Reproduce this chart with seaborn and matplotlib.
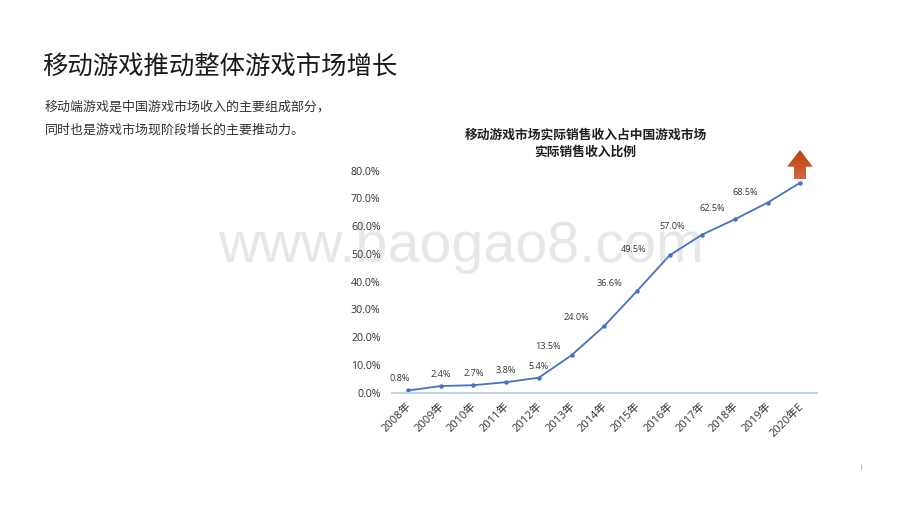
import numpy as np
import pandas as pd
import matplotlib
matplotlib.use("Agg")
import matplotlib.pyplot as plt
from matplotlib.patches import Polygon
from matplotlib.ticker import PercentFormatter
from matplotlib.transforms import ScaledTranslation
import seaborn as sns

# ---- data ----
years = ["2008年", "2009年", "2010年", "2011年", "2012年", "2013年", "2014年",
         "2015年", "2016年", "2017年", "2018年", "2019年", "2020年E"]
shares = [0.8, 2.4, 2.7, 3.8, 5.4, 13.5, 24.0, 36.6, 49.5, 57.0, 62.5, 68.5, 75.7]
value_labels = ["0.8%", "2.4%", "2.7%", "3.8%", "5.4%", "13.5%", "24.0%",
                "36.6%", "49.5%", "57.0%", "62.5%", "68.5%", ""]
y_ticks = [0, 10, 20, 30, 40, 50, 60, 70, 80]

page_title = "移动游戏推动整体游戏市场增长"
body_lines = ["移动端游戏是中国游戏市场收入的主要组成部分，", "同时也是游戏市场现阶段增长的主要推动力。"]
chart_title = "移动游戏市场实际销售收入占中国游戏市场\n实际销售收入比例"
watermark = "www.baogao8.com"

# label offsets from each point, in pixels (dx, dy up)
label_offsets = [(-8.4, 11.8), (0, 11.3), (0, 11.5), (0, 11.9), (0, 11.7), (-24, 9.2),
                 (-28.3, 8.4), (-27.4, 7.8), (-36.2, 6.3), (-29.9, 8.2), (-22.9, 10.6),
                 (-22.3, 10.3), (0, 0)]

W, H = 920, 518
sns.set_theme(style="white")
CJK = "Noto Sans CJK SC"
plt.rcParams["font.family"] = ["Open Sans", CJK, "DejaVu Sans"]

fig = plt.figure(figsize=(W / 100, H / 100), dpi=100, facecolor="white")

# full-page layer in pixel coordinates for the slide furniture
page = fig.add_axes([0, 0, 1, 1], zorder=0)
page.set_xlim(0, W)
page.set_ylim(H, 0)
page.axis("off")
page.text(218, 262, watermark, family="Liberation Sans", fontsize=41.4, color="#E7E7E7", va="baseline", ha="left")
page.text(42, 68, page_title, family=CJK, fontsize=18.3, color="#1A1A1A", va="center", ha="left")
page.text(45, 107, body_lines[0], family=CJK, fontsize=9.35, color="#333333", va="center", ha="left")
page.text(45, 130, body_lines[1], family=CJK, fontsize=9.35, color="#333333", va="center", ha="left")
page.text(585.5, 144, chart_title, family=CJK, fontsize=9.2, fontweight="bold", color="#1F1F1F",
          va="center", ha="center", linespacing=1.4)
page.text(861, 467, ")", family="DejaVu Sans", fontsize=5, color="#A0A0A0", va="center", ha="center")

# rising arrow with vertical gradient
arrow_pts = [(800, 150), (812.7, 166.7), (806, 166.7), (806, 179), (794, 179), (794, 166.7), (787, 166.7)]
arrow = Polygon(arrow_pts, closed=True, facecolor="none", edgecolor="none")
page.add_patch(arrow)
grad = np.linspace(0, 1, 64)[:, None, None]
top = np.array([0.72, 0.26, 0.05])
bottom = np.array([0.83, 0.40, 0.25])
img = top * (1 - grad) + bottom * grad
im = page.imshow(img, extent=(787, 812.7, 179, 150), aspect="auto", interpolation="bilinear")
im.set_clip_path(arrow)
page.set_xlim(0, W)
page.set_ylim(H, 0)

# chart
left, right, top_px, bottom_px = 391.7, 816.7, 170.7, 392.7
ax = fig.add_axes([left / W, 1 - bottom_px / H, (right - left) / W, (bottom_px - top_px) / H], zorder=1)
ax.patch.set_alpha(0)

df = pd.DataFrame({"year": years, "share": shares})
sns.lineplot(data=df, x="year", y="share", sort=False, ax=ax, color="#4472C4", linewidth=1.3,
             marker="o", markersize=3.2, markeredgewidth=0, clip_on=False)

ax.set_xlim(-0.5, len(years) - 0.5)
ax.set_ylim(0, 80)
ax.set_yticks(y_ticks)
ax.yaxis.set_major_formatter(PercentFormatter(decimals=1))
ax.set_xlabel("")
ax.set_ylabel("")
ax.tick_params(axis="y", length=0, pad=8, labelsize=7.7, labelcolor="#333333")
ax.tick_params(axis="x", length=0, pad=6, labelsize=8, labelcolor="#333333")
shift = ScaledTranslation(-2 / 100, 0, fig.dpi_scale_trans)
for t in ax.get_xticklabels():
    t.set_rotation(45)
    t.set_ha("right")
    t.set_rotation_mode("anchor")
    t.set_transform(t.get_transform() + shift)

for side in ("top", "right", "left"):
    ax.spines[side].set_visible(False)
ax.spines["bottom"].set_color("#BDD7E7")
ax.spines["bottom"].set_linewidth(1.5)

for i, (lab, val, off) in enumerate(zip(value_labels, shares, label_offsets)):
    if lab:
        ax.annotate(lab, (i, val), xytext=(off[0] * 0.72, off[1] * 0.72), textcoords="offset points",
                    ha="center", va="center", fontsize=6.6, color="#333333")

fig.savefig("out.png", dpi=100)
